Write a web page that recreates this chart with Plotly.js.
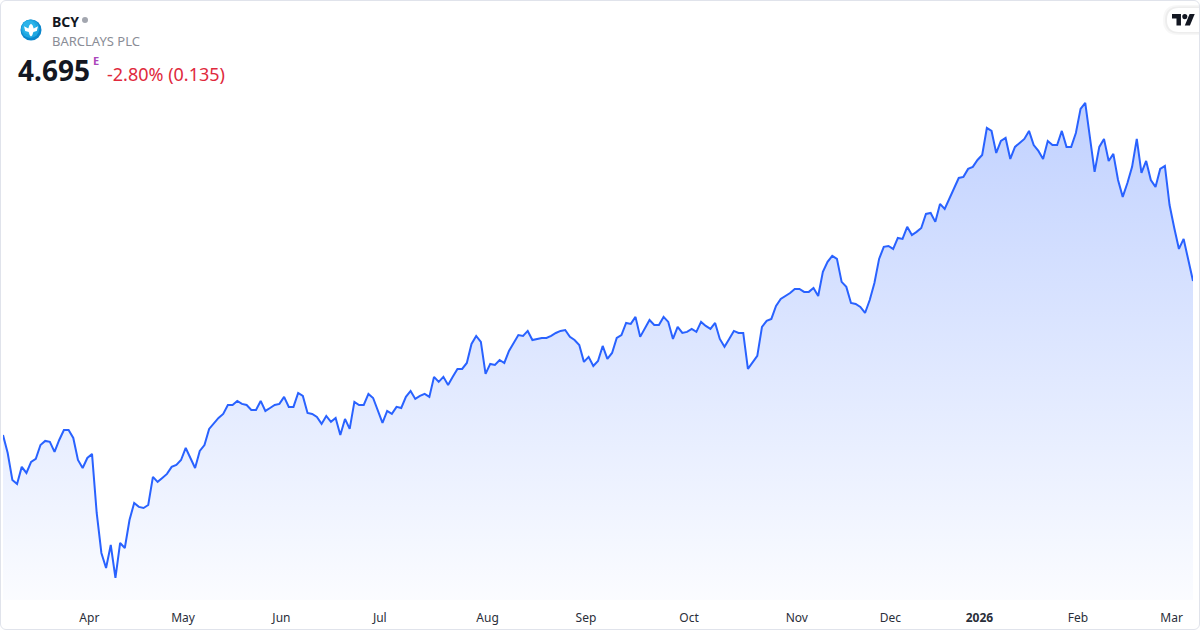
<!DOCTYPE html>
<html>
<head>
<meta charset="utf-8">
<script src="https://cdn.plot.ly/plotly-3.0.1.min.js"></script>
<style>
  html, body { margin: 0; padding: 0; background: #ffffff; }
  #wrap { position: relative; width: 1200px; height: 630px; }
  #chart { width: 1200px; height: 630px; }
  #frame { position: absolute; left: 0; top: 0; width: 1200px; height: 630px; box-sizing: border-box;
           border: 1px solid #e0e3eb; border-radius: 6px; pointer-events: none; }
</style>
</head>
<body>
<div id="wrap">
  <div id="chart"></div>
  <div id="frame"></div>
</div>
<script>
// ---- Data (daily closes, trading-day index) ----
const symbol = "BCY";
const companyName = "BARCLAYS PLC";
const lastPrice = "4.695";
const changeText = "-2.80% (0.135)";

const closes = [
  3.709, 3.594, 3.421, 3.396, 3.505, 3.466, 3.537, 3.556, 3.645, 3.671,
  3.665, 3.601, 3.677, 3.741, 3.741, 3.690, 3.549, 3.498, 3.562, 3.588,
  3.210, 2.954, 2.858, 3.005, 2.794, 3.018, 2.986, 3.165, 3.274, 3.249,
  3.242, 3.261, 3.441, 3.409, 3.434, 3.460, 3.505, 3.517, 3.549, 3.626,
  3.562, 3.498, 3.607, 3.645, 3.748, 3.786, 3.818, 3.844, 3.901, 3.901,
  3.927, 3.908, 3.901, 3.869, 3.869, 3.927, 3.863, 3.882, 3.901, 3.908,
  3.953, 3.889, 3.889, 3.978, 3.959, 3.850, 3.844, 3.825, 3.780, 3.831,
  3.793, 3.818, 3.709, 3.812, 3.748, 3.921, 3.901, 3.901, 3.972, 3.946,
  3.863, 3.786, 3.863, 3.844, 3.889, 3.882, 3.953, 3.991, 3.940, 3.959,
  3.972, 3.953, 4.081, 4.049, 4.081, 4.029, 4.081, 4.132, 4.132, 4.170,
  4.292, 4.343, 4.305, 4.100, 4.164, 4.157, 4.189, 4.170, 4.247, 4.298,
  4.349, 4.343, 4.375, 4.317, 4.324, 4.330, 4.330, 4.343, 4.362, 4.375,
  4.381, 4.337, 4.317, 4.285, 4.177, 4.209, 4.151, 4.183, 4.279, 4.196,
  4.234, 4.330, 4.349, 4.426, 4.420, 4.465, 4.337, 4.388, 4.445, 4.413,
  4.413, 4.465, 4.433, 4.324, 4.401, 4.362, 4.369, 4.388, 4.369, 4.433,
  4.407, 4.388, 4.426, 4.324, 4.273, 4.324, 4.375, 4.362, 4.362, 4.132,
  4.170, 4.215, 4.401, 4.439, 4.452, 4.535, 4.580, 4.599, 4.618, 4.644,
  4.644, 4.625, 4.625, 4.650, 4.599, 4.753, 4.817, 4.855, 4.836, 4.689,
  4.657, 4.554, 4.548, 4.529, 4.490, 4.573, 4.682, 4.836, 4.913, 4.919,
  4.900, 4.970, 4.964, 5.041, 4.989, 5.009, 5.034, 5.124, 5.130, 5.073,
  5.188, 5.156, 5.226, 5.290, 5.354, 5.361, 5.412, 5.425, 5.469, 5.501,
  5.674, 5.655, 5.514, 5.591, 5.610, 5.476, 5.553, 5.578, 5.604, 5.655,
  5.565, 5.527, 5.476, 5.591, 5.565, 5.565, 5.655, 5.553, 5.553, 5.642,
  5.796, 5.834, 5.629, 5.393, 5.553, 5.604, 5.463, 5.508, 5.341, 5.233,
  5.322, 5.425, 5.604, 5.386, 5.463, 5.341, 5.297, 5.412, 5.431, 5.181,
  5.034, 4.900, 4.964, 4.829, 4.695
];

// first trading day of each month (trading-day index) and labels
const monthTickIndex = [18, 38, 59, 80, 103, 124, 146, 169, 189, 208, 229, 249];
const monthTickLabels = ["Apr", "May", "Jun", "Jul", "Aug", "Sep", "Oct", "Nov", "Dec", "<b>2026</b>", "Feb", "Mar"];

// ---- Chart ----
const dayIndex = closes.map((_, i) => i);
const W = 1200, H = 630;
const M = { l: 3, r: 7, t: 90, b: 30 };
const plotW = W - M.l - M.r, plotH = H - M.t - M.b;
const px = v => (v - M.l) / plotW;      // page pixel -> paper x
const py = v => (H - M.b - v) / plotH;  // page pixel -> paper y

const yMin = 2.653, yMax = 5.917;
const peak = Math.max(...closes);

const trace = {
  x: dayIndex,
  y: closes,
  type: "scatter",
  mode: "lines",
  line: { color: "#2962FF", width: 2 },
  fill: "tozeroy",
  fillgradient: {
    type: "vertical",
    start: yMin,
    stop: peak,
    colorscale: [[0, "rgba(41,98,255,0.02)"], [1, "rgba(41,98,255,0.29)"]]
  },
  hoverinfo: "skip"
};

// Barclays logo eagle (local px offsets from the circle centre)
const eagle = [[-7,-3.8],[-2.7,-1.6],[-1.6,-4.8],[0,-6.2],[1.6,-4.8],[2.7,-1.6],[7,-3.8],[5.8,0.9],[2.3,2.1],[1.3,5.3],[0,6.5],[-1.3,5.3],[-2.3,2.1],[-5.8,0.9]];
const lcx = 31, lcy = 30, lr = 10.5;
const eaglePath = eagle.map((p, i) => (i ? "L" : "M") + px(lcx + p[0]).toFixed(5) + "," + py(lcy + p[1]).toFixed(5)).join(" ") + " Z";

// TradingView logo (viewBox 36x28 scaled)
const s = 0.64, ox = 1172, oy = 11.5;
const tvP = (x, y) => px(ox + x * s).toFixed(5) + "," + py(oy + y * s).toFixed(5);
const tvT = "M" + tvP(0,4) + " L" + tvP(14,4) + " L" + tvP(14,22) + " L" + tvP(7,22) + " L" + tvP(7,11) + " L" + tvP(0,11) + " Z";
const tvSlash = "M" + tvP(27.5,4) + " L" + tvP(35.5,4) + " L" + tvP(28,22) + " L" + tvP(20,22) + " Z";

function pill(x0, y0, y1, color, opacity) {
  const xr = 1215;
  const rr = (y1 - y0) / 2;
  return {
    type: "path", xref: "paper", yref: "paper", layer: "above",
    path: "M" + px(xr) + "," + py(y0) + " L" + px(x0 + rr) + "," + py(y0) +
          " Q" + px(x0) + "," + py(y0) + " " + px(x0) + "," + py((y0 + y1) / 2) +
          " Q" + px(x0) + "," + py(y1) + " " + px(x0 + rr) + "," + py(y1) +
          " L" + px(xr) + "," + py(y1) + " Z",
    fillcolor: color, opacity: opacity, line: { width: 0 }
  };
}

function circ(cx, cy, r, color, opacity) {
  return { type: "circle", xref: "paper", yref: "paper", x0: px(cx - r), x1: px(cx + r), y0: py(cy + r), y1: py(cy - r),
           fillcolor: color, opacity: opacity, line: { width: 0 }, layer: "above" };
}

const shapes = [
  // Barclays logo circle with a soft two-tone look
  circ(lcx, lcy, lr, "#0b86cc", 1),
  circ(lcx - 0.8, lcy - 1.2, lr - 1.3, "#1ea6e0", 1),
  circ(lcx - 1.8, lcy - 2.4, lr - 3.5, "#34bdee", 0.6),
  { type: "path", xref: "paper", yref: "paper", path: eaglePath, fillcolor: "#ffffff", line: { width: 0 }, layer: "above" },
  // status dot
  circ(85, 20, 3, "#a3a6af", 1),
  // TradingView badge shadow + pill
  pill(1163, 5, 35, "#000000", 0.03),
  pill(1165, 6.5, 33.5, "#000000", 0.04),
  pill(1167, 8, 32, "#ffffff", 1),
  { type: "path", xref: "paper", yref: "paper", path: tvT, fillcolor: "#131722", line: { width: 0 }, layer: "above" },
  { type: "path", xref: "paper", yref: "paper", path: tvSlash, fillcolor: "#131722", line: { width: 0 }, layer: "above" },
  circ(ox + 20 * s, oy + 8 * s, 4 * s, "#131722", 1)
];

const F = "'Noto Sans', 'Open Sans', sans-serif";
const annotations = [
  { text: "<b>" + symbol + "</b>", x: px(50), y: py(21), xanchor: "left", yanchor: "middle",
    font: { family: F, size: 14, color: "#131722" } },
  { text: companyName, x: px(50), y: py(41), xanchor: "left", yanchor: "middle",
    font: { family: F, size: 13, color: "#8a8d96" } },
  { text: "<b>" + lastPrice + "</b>", x: px(16), y: py(70), xanchor: "left", yanchor: "middle",
    font: { family: F, size: 28, color: "#131722" } },
  { text: "<b>E</b>", x: px(91), y: py(61), xanchor: "left", yanchor: "middle",
    font: { family: F, size: 11, color: "#ab47bc" } },
  { text: changeText, x: px(105), y: py(74), xanchor: "left", yanchor: "middle",
    font: { family: F, size: 18, color: "#e0293d" } }
].map(a => Object.assign({ xref: "paper", yref: "paper", showarrow: false }, a));

const layout = {
  width: W, height: H,
  margin: M,
  paper_bgcolor: "#ffffff",
  plot_bgcolor: "#ffffff",
  showlegend: false,
  xaxis: {
    range: [0, closes.length - 1],
    showgrid: false, zeroline: false, showline: false,
    ticks: "",
    tickmode: "array",
    tickvals: monthTickIndex,
    ticktext: monthTickLabels,
    tickfont: { family: F, size: 12, color: "#2a2e39" },
    ticklabelstandoff: 9,
    ticklabelshift: 2,
    fixedrange: true
  },
  yaxis: {
    range: [yMin, yMax],
    visible: false,
    showgrid: false, zeroline: false,
    fixedrange: true
  },
  shapes: shapes,
  annotations: annotations
};

Plotly.newPlot("chart", [trace], layout, { staticPlot: true, displayModeBar: false });
</script>
</body>
</html>
